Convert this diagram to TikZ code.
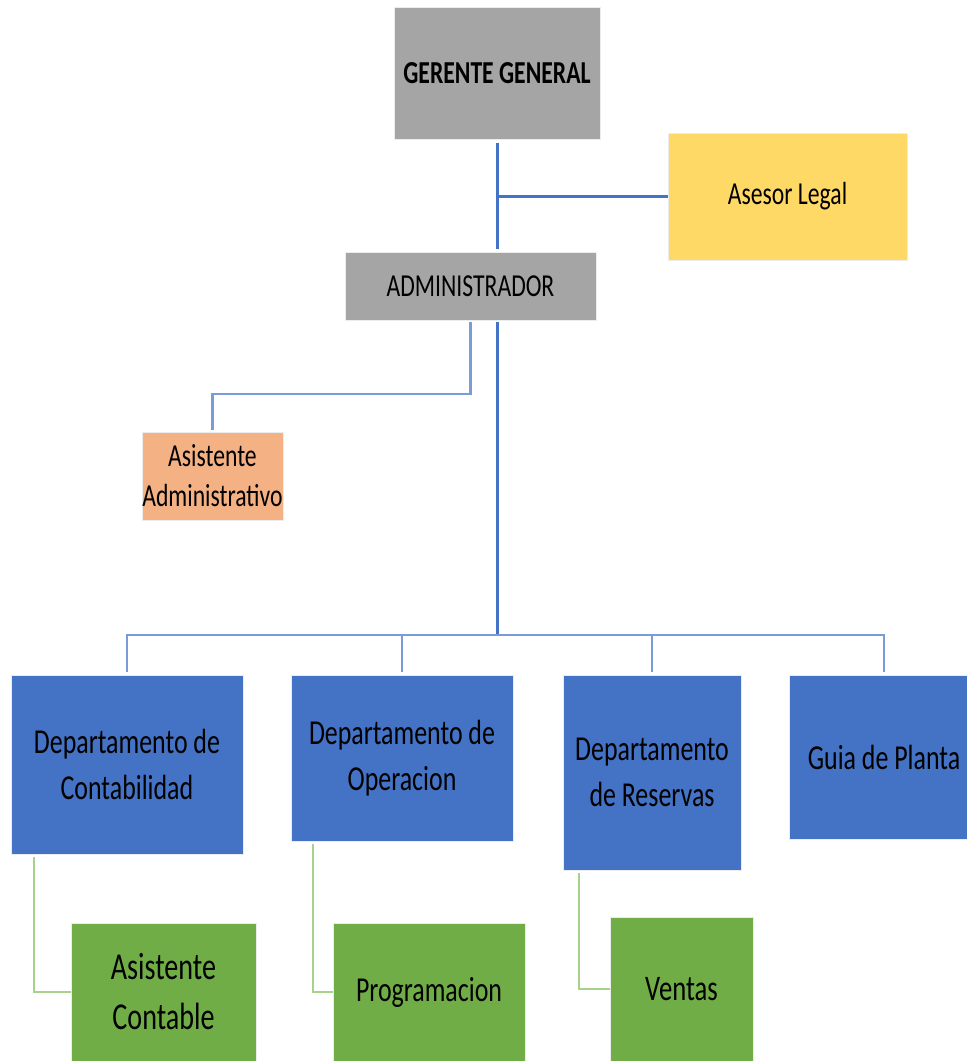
\documentclass[tikz,border=0pt]{standalone}
\usepackage{fontspec}
\setmainfont{Carlito}[FakeStretch=0.74]
\usetikzlibrary{calc}
\definecolor{gbox}{HTML}{A5A5A5}
\definecolor{ybox}{HTML}{FFD966}
\definecolor{obox}{HTML}{F4B183}
\definecolor{bbox}{HTML}{4472C4}
\definecolor{grbox}{HTML}{70AD47}
\definecolor{bline}{HTML}{4472C4}
\definecolor{lbline}{HTML}{7A9BDA}
\definecolor{gline}{HTML}{A9D18E}
\tikzset{
  box/.style={rectangle, inner sep=0pt, align=center, text=black, draw=white!85!gray, line width=0.8pt},
  graybox/.style={box, fill=gbox},
  yellowbox/.style={box, fill=ybox},
  orangebox/.style={box, fill=obox},
  bluebox/.style={box, fill=bbox, font=\fontsize{35}{46}\selectfont},
  greenbox/.style={box, fill=grbox, font=\fontsize{38}{50}\selectfont},
  mainline/.style={draw=bline, line width=3pt},
  subline/.style={draw=lbline, line width=2.5pt},
  greenline/.style={draw=gline, line width=2pt},
}
\begin{document}
\begin{tikzpicture}[x=1pt,y=-1pt]
\useasboundingbox (0,0) rectangle (967,1061);
\clip (0,0) rectangle (967,1061);
% nodes
\node[graybox, minimum width=206pt, minimum height=132pt, font=\fontsize{32}{40}\selectfont\bfseries] (gg) at (497,73) {GERENTE GENERAL};
\node[yellowbox, minimum width=239pt, minimum height=127pt, font=\fontsize{32}{40}\selectfont] (al) at (787.5,196.5) {Asesor Legal};
\node[graybox, minimum width=251pt, minimum height=68pt, font=\fontsize{32}{40}\selectfont] (adm) at (470.5,286) {ADMINISTRADOR};
\node[orangebox, minimum width=141pt, minimum height=88pt, font=\fontsize{32}{40}\selectfont] (aa) at (212.5,476) {Asistente\\Administrativo};
\node[bluebox, minimum width=232pt, minimum height=179pt] (dc) at (127,764.5) {Departamento de\\Contabilidad};
\node[bluebox, minimum width=222pt, minimum height=166pt] (dop) at (402,758) {Departamento de\\Operacion};
\node[bluebox, minimum width=178pt, minimum height=195pt] (dr) at (652,772.5) {Departamento\\de Reservas};
\node[bluebox, minimum width=190pt, minimum height=164pt] (gp) at (884,757) {Guia de Planta};
\node[greenbox, minimum width=185pt, minimum height=138pt] (ac) at (163.5,992) {Asistente\\Contable};
\node[greenbox, minimum width=192pt, minimum height=138pt, font=\fontsize{35}{46}\selectfont] (pr) at (429,992) {Programacion};
\node[greenbox, minimum width=143pt, minimum height=144pt, font=\fontsize{36}{46}\selectfont] (ve) at (681.5,989) {Ventas};
\coordinate (bus) at (497,635);
% connectors
\draw[mainline, shorten <=4pt, shorten >=3pt] (gg.south) -- (gg.south |- adm.north);
\draw[mainline] (gg.south |- al.west) -- (al.west);
\draw[mainline, shorten <=2pt] (gg.south |- adm.south) -- (bus);
\draw[subline, shorten <=2pt, shorten >=2pt] (adm.south) -- (adm.south |- 0,394) -| (aa.north);
\draw[subline, shorten <=3pt] (dc.north) |- (bus);
\draw[subline, shorten <=3pt] (dop.north) |- (bus);
\draw[subline, shorten <=3pt] (dr.north) |- (bus);
\draw[subline, shorten <=3pt] (gp.north) |- (bus);
\draw[greenline, shorten <=3pt] ($(dc.south west)+(23,0)$) |- (ac.west);
\draw[greenline, shorten <=3pt] ($(dop.south west)+(22,0)$) |- (pr.west);
\draw[greenline, shorten <=3pt] ($(dr.south west)+(16,0)$) |- (ve.west);
\end{tikzpicture}
\end{document}
